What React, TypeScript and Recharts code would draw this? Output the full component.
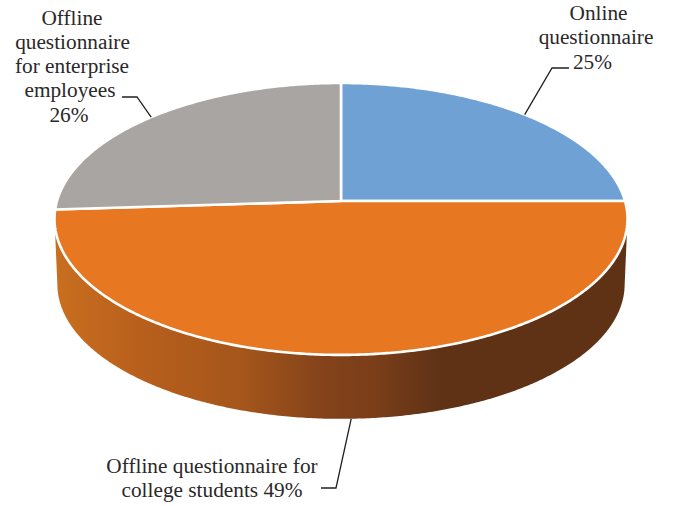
import React from "react";
import { PieChart, Pie } from "recharts";

const sliceNames = ["Online questionnaire", "Offline questionnaire for college students", "Offline questionnaire for enterprise employees"];
const sliceValues = [25, 49, 26];
const sliceColors = ["#6fa1d4", "#e87722", "#a9a5a3"];

// Caption lines per slice; {v} is replaced by the slice value.
const captionLines = [
  ["Online", "questionnaire", "{v}%"],
  ["Offline questionnaire for", "college students {v}%"],
  ["Offline", "questionnaire", "for enterprise", "employees", "{v}%"],
];
const captionLayout = [
  { x: 596, y: 20, step: 24.4, shift: [2.5, 0, -3.5], elbow: [552, 68], tail: [569, 68] },
  { x: 212, y: 473, step: 24, shift: [0, 0], elbow: [336, 488], tail: [321, 488] },
  { x: 72, y: 24.5, step: 24.3, shift: [0, 0.5, 0, -2, -3], elbow: [137, 97], tail: [122, 97] },
];

// Shading along the rim of the disc, left to right.
const wallStops = [
  [0, "#c96f20"],
  [0.15, "#b85f1c"],
  [0.325, "#a5561b"],
  [0.47, "#83421a"],
  [0.56, "#7a3e19"],
  [0.67, "#5f3216"],
  [1, "#5f3216"],
];

const CX = 341;
const CY = 201;
const RADIUS = 284;
const PERSPECTIVE = 0.132; // foreshortening from far edge to near edge
const TILT = 0.4704; // vertical squash of the disc
const DEPTH = 65.5; // drop from the top face to the bottom face
const FLOOR_SCALE = 0.99; // bottom face sits slightly further from the eye

const project = (cx: number, cy: number, r: number, deg: number, floor = false) => {
  const t = ((90 - deg) * Math.PI) / 180;
  const u = Math.sin(t);
  const v = Math.cos(t);
  const d = 1 + PERSPECTIVE * v;
  const s = floor ? FLOOR_SCALE : 1;
  return {
    x: cx + (s * r * u) / d,
    y: cy + (floor ? DEPTH : 0) - (s * r * TILT * v) / d,
    v,
  };
};

const arcSamples = (start: number, end: number) => {
  const n = Math.max(2, Math.ceil(Math.abs(end - start) * 2));
  return Array.from({ length: n + 1 }, (_, i) => start + ((end - start) * i) / n);
};

const toPath = (pts: { x: number; y: number }[]) =>
  pts.map((p, i) => `${i ? "L" : "M"}${p.x.toFixed(2)} ${p.y.toFixed(2)}`).join(" ") + " Z";

// Flat top face of one slice, seen in perspective.
const TopSlice = (props: any) => {
  const { cx, cy, outerRadius, startAngle, endAngle, fill } = props;
  const rim = arcSamples(startAngle, endAngle).map((a) => project(cx, cy, outerRadius, a));
  return (
    <path
      d={toPath([{ x: cx, y: cy }, ...rim])}
      fill={fill}
      stroke="#ffffff"
      strokeWidth={2.6}
      strokeLinejoin="round"
    />
  );
};

// Outer wall of a slice: only the part of its rim that faces the viewer.
const WallSlice = (props: any) => {
  const { cx, cy, outerRadius, startAngle, endAngle, index } = props;
  const angles = arcSamples(startAngle, endAngle).filter(
    (a) => project(cx, cy, outerRadius, a).v <= -PERSPECTIVE
  );
  if (angles.length < 2) return <g />;
  const top = angles.map((a) => project(cx, cy, outerRadius, a));
  const floor = angles.map((a) => project(cx, cy, outerRadius, a, true)).reverse();
  const id = `wall-${index}`;
  const half = outerRadius * 1.01;
  return (
    <g>
      <defs>
        <linearGradient id={id} gradientUnits="userSpaceOnUse" x1={cx - half} x2={cx + half} y1={0} y2={0}>
          {wallStops.map(([o, c]) => (
            <stop key={o as number} offset={o as number} stopColor={c as string} />
          ))}
        </linearGradient>
      </defs>
      <path d={toPath([...top, ...floor])} fill={`url(#${id})`} />
    </g>
  );
};

// Caption text and its elbowed leader line, anchored on the rim at the slice's mid angle.
const Caption = (props: any) => {
  const { cx, cy, outerRadius, midAngle, index, value } = props;
  const layout = captionLayout[index];
  const rim = project(cx, cy, outerRadius, midAngle);
  const tip = rim.v <= -PERSPECTIVE ? project(cx, cy, outerRadius, midAngle, true) : rim;
  return (
    <g>
      <polyline
        points={`${tip.x},${tip.y} ${layout.elbow.join(",")} ${layout.tail.join(",")}`}
        fill="none"
        stroke="#231f20"
        strokeWidth={1.3}
      />
      <text
        textAnchor="middle"
        fontFamily="'Liberation Serif', serif"
        fontSize={21.3}
        fill="#2b2829"
      >
        {captionLines[index].map((line, i) => (
          <tspan key={i} x={layout.x + layout.shift[i]} y={layout.y + i * layout.step}>
            {line.replace("{v}", String(value))}
          </tspan>
        ))}
      </text>
    </g>
  );
};

const rows = sliceNames.map((name, i) => ({ name, value: sliceValues[i], fill: sliceColors[i] }));

export default function App() {
  return (
    <div style={{ position: "absolute", left: 0, top: 0 }}>
      <PieChart width={680} height={506} margin={{ top: 0, right: 0, bottom: 0, left: 0 }} accessibilityLayer={false}>
        <Pie
          data={rows}
          dataKey="value"
          nameKey="name"
          cx={CX}
          cy={CY}
          outerRadius={RADIUS}
          startAngle={90}
          endAngle={-270}
          isAnimationActive={false}
          shape={WallSlice}
          label={false}
          labelLine={false}
        />
        <Pie
          data={rows}
          dataKey="value"
          nameKey="name"
          cx={CX}
          cy={CY}
          outerRadius={RADIUS}
          startAngle={90}
          endAngle={-270}
          isAnimationActive={false}
          shape={TopSlice}
          label={Caption}
          labelLine={false}
        />
      </PieChart>
    </div>
  );
}
